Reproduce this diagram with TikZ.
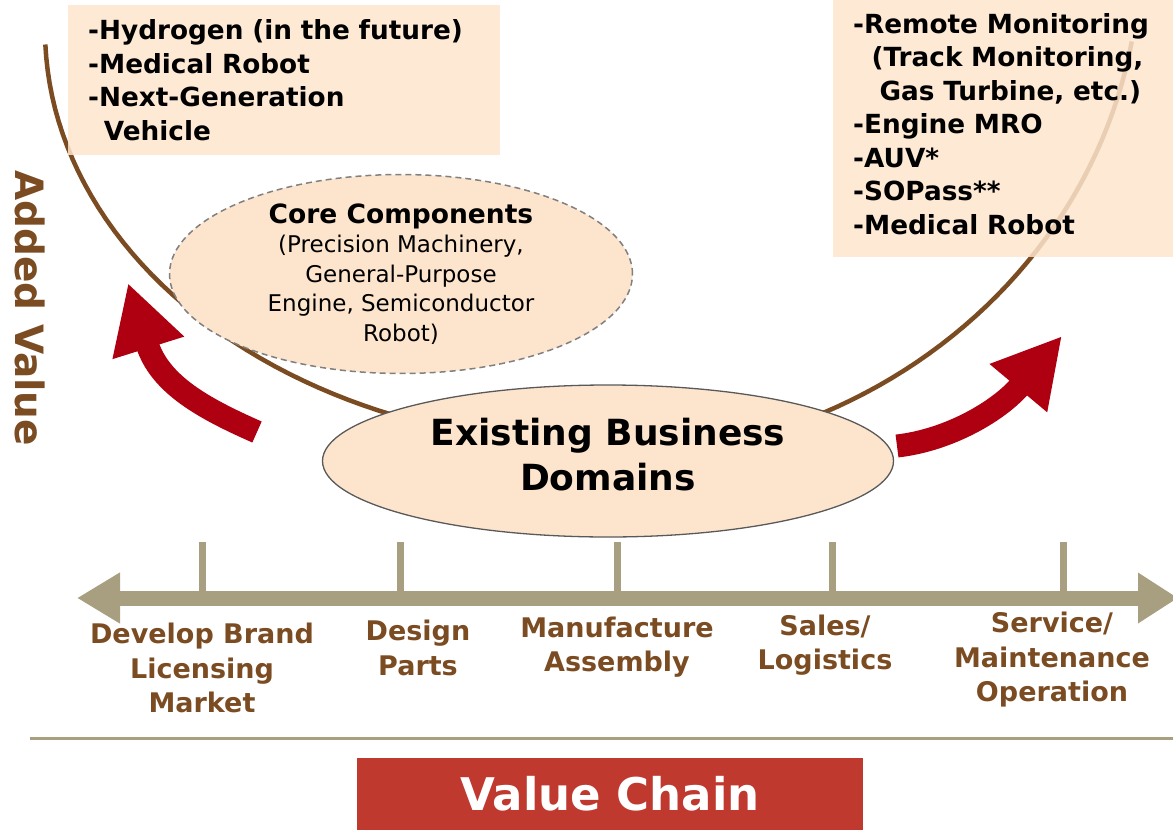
\documentclass[tikz,border=0pt]{standalone}
\usepackage{fontspec}
\setmainfont{DejaVu Sans}
\usetikzlibrary{arrows.meta,shapes.geometric}
\definecolor{peach}{HTML}{FDE5CD}
\definecolor{ubrown}{HTML}{7B4B22}
\definecolor{arrowred}{HTML}{AE0011}
\definecolor{axistan}{HTML}{A89F80}
\definecolor{chainred}{HTML}{C0392F}
\begin{document}
\begin{tikzpicture}[x=1pt,y=-1pt,
  ucurve/.style={draw=ubrown, line width=4.5pt},
  listbox/.style={fill=peach, fill opacity=0.85, text opacity=1, align=left, anchor=north west,
    inner xsep=20pt, inner ysep=0pt, font=\bfseries\fontsize{26.3}{33.5}\selectfont},
  coreell/.style={ellipse, draw=black!50, dash pattern=on 6pt off 4pt, line width=1.5pt, fill=peach,
    inner sep=0pt, minimum width=463pt, minimum height=162pt, align=center,
    font=\fontsize{23}{29.5}\selectfont},
  existell/.style={ellipse, draw=black!65, line width=1.3pt, fill=peach, inner sep=0pt,
    minimum width=571pt, minimum height=152pt},
  bigtext/.style={align=center, inner sep=0pt, font=\bfseries\fontsize{36}{45}\selectfont},
  bigarrow/.style={draw=arrowred, line width=23pt, -{Triangle[length=68pt,width=70pt]}},
  chainaxis/.style={draw=axistan, line width=15pt,
    {Triangle[length=43pt,width=48pt]}-{Triangle[length=40pt,width=48pt]}},
  chaintick/.style={draw=axistan, line width=7pt},
  steplabel/.style={text=ubrown, align=center, inner sep=0pt, font=\bfseries\fontsize{27}{34.5}\selectfont},
  chainbox/.style={fill=chainred, text=white, inner sep=0pt, minimum width=506pt, minimum height=72pt,
    font=\bfseries\fontsize{45}{50}\selectfont}]
\useasboundingbox (0,0) rectangle (1173,830);

% the U curve of added value
\draw[ucurve] plot[domain=2:90, samples=50] ({600-555*cos(\x)},{30+415*sin(\x)})
  -- plot[domain=90:10, samples=50] ({600+540*cos(\x)},{-46+504*sin(\x)});

% new business boxes
\node[listbox, minimum width=432pt, minimum height=150pt, text width=392pt] (futurebox) at (68,5)
  {-Hydrogen (in the future)\\-Medical Robot\\-Next-Generation\\\hspace*{0.6em}Vehicle};
\node[listbox, minimum width=352pt, minimum height=267pt, text width=312pt] (servicebox) at (833,-10)
  {-Remote Monitoring\\\hspace*{0.7em}(Track Monitoring,\\\hspace*{1em}Gas Turbine, etc.)\\-Engine MRO\\-AUV*\\-SOPass**\\-Medical Robot};

% ellipses
\node[coreell] (core) at (401,274) {{\bfseries\fontsize{26.5}{30}\selectfont Core Components}\\(Precision Machinery,\\General-Purpose\\Engine, Semiconductor\\Robot)};
\node[existell] (exist) at (608,461) {};
\node[bigtext] (existtext) at (608,455) {Existing Business\\Domains};

% red arrows
\coordinate (upL0) at (257,432);
\coordinate (upL1) at (128,283);
\coordinate (upR0) at (897,446);
\coordinate (upR1) at (1062,336);
\draw[bigarrow] (upL0) .. controls (205,409) and (160,385) .. (upL1);
\draw[bigarrow] (upR0) .. controls (950,440) and (1000,410) .. (upR1);

% value chain axis
\foreach \x in {202,400,617,832,1063}
  \draw[chaintick] (\x,542) -- (\x,595);
\coordinate (chainL) at (77,598);
\coordinate (chainR) at (1178,598);
\draw[chainaxis] (chainL) -- (chainR);

\node[steplabel] (develop) at (202,668) {Develop Brand\\Licensing\\Market};
\node[steplabel] (design) at (418,648) {Design\\Parts};
\node[steplabel] (manufacture) at (617,647) {Manufacture\\Assembly};
\node[steplabel] (sales) at (825,645) {Sales/\\Logistics};
\node[steplabel] (service) at (1052,660) {Service/\\Maintenance\\Operation};

\draw[draw=axistan, line width=3pt] (30,738) -- (1173,738);
\node[chainbox] (valuechain) at (610,794) {Value Chain};
\node[text=ubrown, rotate=-90, inner sep=0pt, font=\bfseries\fontsize{39}{40}\selectfont] (added) at (30,308) {Added Value};
\end{tikzpicture}
\end{document}
